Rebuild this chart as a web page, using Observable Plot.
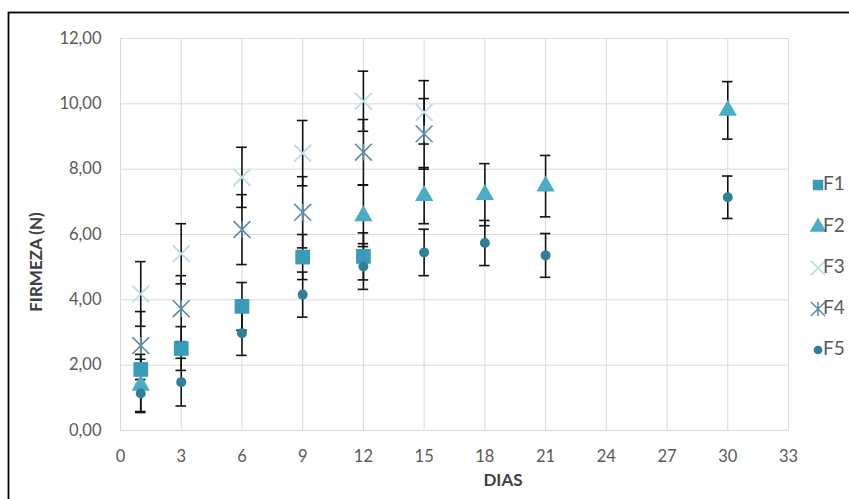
<!DOCTYPE html>
<html>
<head>
<meta charset="utf-8">
<script src="https://cdn.jsdelivr.net/npm/d3@7"></script>
<script src="https://cdn.jsdelivr.net/npm/@observablehq/plot@0.6"></script>
<style>
  html, body { margin: 0; padding: 0; background: #ffffff; }
  #chart { width: 849px; height: 499px; overflow: hidden; }
  svg { display: block; }
</style>
</head>
<body>
<div id="chart"></div>
<script>
// ---- data ----
const xTicks = [0, 3, 6, 9, 12, 15, 18, 21, 24, 27, 30, 33];
const yTicks = [0, 2, 4, 6, 8, 10, 12];
const seriesNames = ["F1", "F2", "F3", "F4", "F5"];

const f1Days = [1, 3, 6, 9, 12];
const f1Mean = [1.87, 2.51, 3.80, 5.31, 5.33];
const f1Err  = [0.46, 0.67, 0.73, 0.69, 0.72];

const f2Days = [1, 12, 15, 18, 21, 30];
const f2Mean = [1.38, 6.57, 7.19, 7.22, 7.48, 9.80];
const f2Err  = [0.80, 0.94, 0.86, 0.95, 0.94, 0.88];

const f3Days = [1, 3, 6, 9, 12, 15];
const f3Mean = [4.18, 5.41, 7.75, 8.49, 10.08, 9.74];
const f3Err  = [0.99, 0.92, 0.92, 1.00, 0.92, 0.97];

const f4Days = [1, 3, 6, 9, 12, 15];
const f4Mean = [2.60, 3.73, 6.15, 6.68, 8.52, 9.08];
const f4Err  = [1.04, 1.01, 1.07, 1.09, 1.00, 1.08];

const f5Days = [1, 3, 6, 9, 12, 15, 18, 21, 30];
const f5Mean = [1.13, 1.48, 2.98, 4.16, 5.02, 5.45, 5.74, 5.36, 7.14];
const f5Err  = [0.58, 0.73, 0.68, 0.69, 0.70, 0.71, 0.69, 0.67, 0.65];

// ---- styles ----
const colors = {F1: "#3a9bb9", F2: "#4bacc6", F3: "#bcdbe5", F4: "#5a8ca2", F5: "#2f7f97"};

// Excel-like "star" marker: X plus a vertical stroke
const starSymbol = {
  draw(ctx, size) {
    const r = Math.sqrt(size) * 0.5;
    ctx.moveTo(-r, -r); ctx.lineTo(r, r);
    ctx.moveTo(r, -r); ctx.lineTo(-r, r);
    ctx.moveTo(0, -r); ctx.lineTo(0, r);
  }
};
const timesSymbol = {
  draw(ctx, size) {
    const r = Math.sqrt(size) * 0.5;
    ctx.moveTo(-r, -r); ctx.lineTo(r, r);
    ctx.moveTo(r, -r); ctx.lineTo(-r, r);
  }
};

function rows(name, days, mean, err) {
  return days.map((d, i) => ({series: name, day: d, mean: mean[i], err: err[i]}));
}
const r1 = rows("F1", f1Days, f1Mean, f1Err);
const r2 = rows("F2", f2Days, f2Mean, f2Err);
const r3 = rows("F3", f3Days, f3Mean, f3Err);
const r4 = rows("F4", f4Days, f4Mean, f4Err);
const r5 = rows("F5", f5Days, f5Mean, f5Err);
const all = [...r1, ...r2, ...r3, ...r4, ...r5];

const fmt = d => d.toFixed(2).replace(".", ",");
const capHalf = 0.26;
const font = "Lato, 'Open Sans', sans-serif";

const chart = Plot.plot({
  width: 849,
  height: 499,
  marginTop: 38,
  marginBottom: 69,
  marginLeft: 120,
  marginRight: 61,
  style: {fontFamily: font, fontSize: "16.5px", color: "#595959", background: "transparent", overflow: "visible"},
  x: {domain: [0, 33]},
  y: {domain: [0, 12]},
  marks: [
    Plot.gridX(xTicks, {stroke: "#d9d9d9", strokeOpacity: 1, strokeWidth: 1}),
    Plot.gridY(yTicks, {stroke: "#d9d9d9", strokeOpacity: 1, strokeWidth: 1}),
    Plot.axisX(xTicks, {tickSize: 0, tickPadding: 20, tickFormat: d => String(d), label: null, fill: "#595959"}),
    Plot.axisY(yTicks, {tickSize: 0, tickPadding: 19, tickFormat: fmt, label: null, fill: "#595959"}),
    // error bars
    Plot.ruleX(all, {x: "day", y1: d => d.mean - d.err, y2: d => d.mean + d.err, stroke: "#111", strokeWidth: 1.6}),
    Plot.ruleY(all, {y: d => d.mean + d.err, x1: d => d.day - capHalf, x2: d => d.day + capHalf, stroke: "#111", strokeWidth: 1.6}),
    Plot.ruleY(all, {y: d => d.mean - d.err, x1: d => d.day - capHalf, x2: d => d.day + capHalf, stroke: "#111", strokeWidth: 1.6}),
    // markers
    Plot.dot(r1, {x: "day", y: "mean", symbol: "square", r: 8.3, fill: colors.F1, stroke: "none"}),
    Plot.dot(r2, {x: "day", y: "mean", symbol: "triangle", r: 6.8, fill: colors.F2, stroke: "none"}),
    Plot.dot(r3, {x: "day", y: "mean", symbol: timesSymbol, r: 9.5, stroke: colors.F3, strokeWidth: 1.8, fill: "none"}),
    Plot.dot(r4, {x: "day", y: "mean", symbol: starSymbol, r: 9.5, stroke: colors.F4, strokeWidth: 1.6, fill: "none"}),
    Plot.dot(r5, {x: "day", y: "mean", symbol: "circle", r: 5, fill: colors.F5, stroke: "none"})
  ]
});

document.getElementById("chart").appendChild(chart);

const svg = d3.select(chart);
// outer frame of the chart area
svg.insert("rect", ":first-child")
  .attr("x", 8.5).attr("y", 12.5).attr("width", 900).attr("height", 600)
  .attr("fill", "none").attr("stroke", "#000").attr("stroke-width", 1.8);

// axis titles
svg.append("text")
  .attr("x", 503).attr("y", 482)
  .attr("text-anchor", "middle").attr("dominant-baseline", "middle")
  .attr("font-family", font).attr("font-size", 17).attr("font-weight", "bold")
  .attr("fill", "#404040").text("DIAS");
svg.append("text")
  .attr("transform", "translate(38,262) rotate(-90)")
  .attr("text-anchor", "middle").attr("dominant-baseline", "middle")
  .attr("font-family", font).attr("font-size", 17).attr("font-weight", "bold")
  .attr("fill", "#404040").text("FIRMEZA (N)");

// legend
const legendY = [185, 227, 268, 309, 350];
const legendShapes = {
  F1: {type: d3.symbolSquare, size: 110, fill: colors.F1},
  F2: {type: d3.symbolTriangle, size: 120, fill: colors.F2},
  F3: {type: timesSymbol, size: 200, stroke: colors.F3, w: 1.6},
  F4: {type: starSymbol, size: 200, stroke: colors.F4, w: 1.5},
  F5: {type: d3.symbolCircle, size: 60, fill: colors.F5}
};
const lg = svg.append("g");
seriesNames.forEach((name, i) => {
  const s = legendShapes[name];
  lg.append("path")
    .attr("transform", `translate(818,${legendY[i]})`)
    .attr("d", d3.symbol(s.type, s.size)())
    .attr("fill", s.fill || "none")
    .attr("stroke", s.stroke || "none")
    .attr("stroke-width", s.w || 0);
  lg.append("text")
    .attr("x", 834).attr("y", legendY[i])
    .attr("dominant-baseline", "middle")
    .attr("font-family", font).attr("font-size", 19)
    .attr("fill", "#595959").text(name);
});
</script>
</body>
</html>
